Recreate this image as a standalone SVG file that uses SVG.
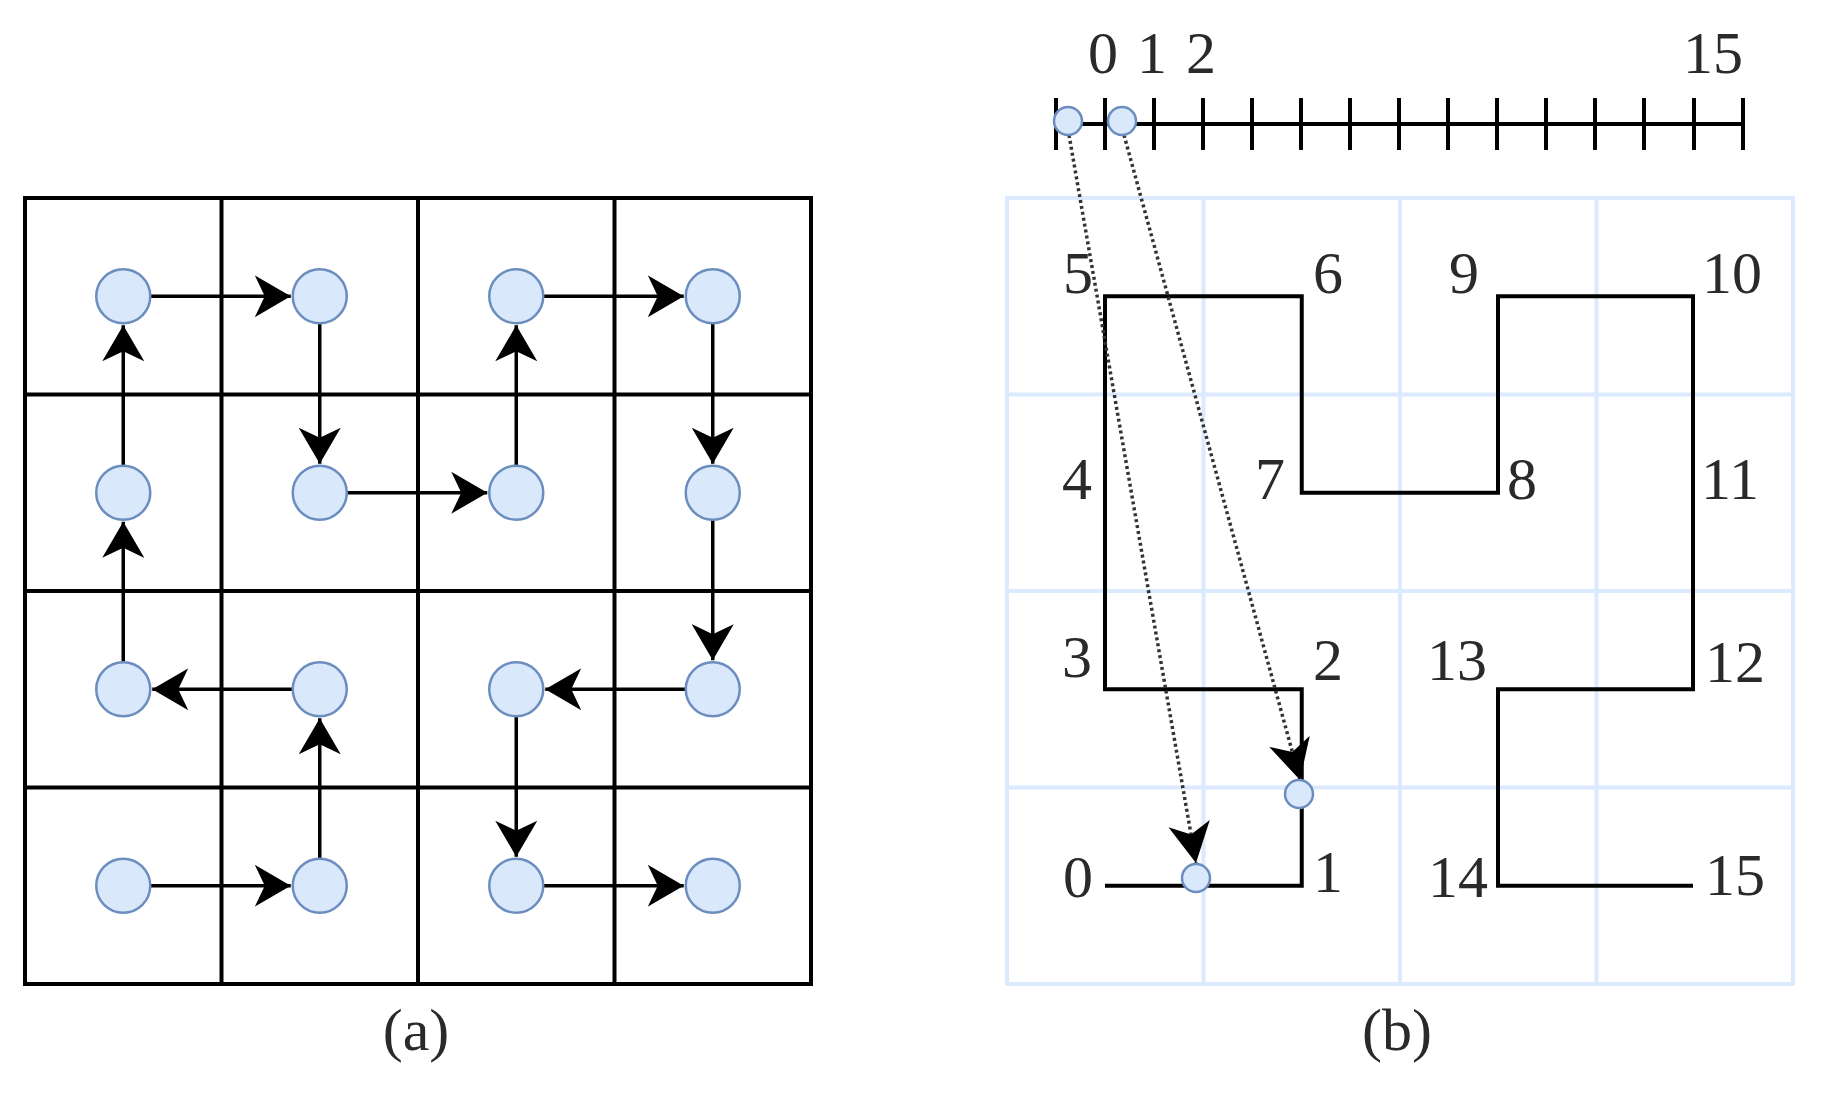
<svg xmlns="http://www.w3.org/2000/svg" width="1829" height="1093" viewBox="0 0 1829 1093">
<style>
.grid{fill:none;stroke:#000;stroke-width:4}
.lgrid{fill:none;stroke:#dbeafe;stroke-width:4}
.node{fill:#dae8fc;stroke:#6c8ebf;stroke-width:2.5}
.arr{stroke:#000;stroke-width:3.5;fill:none}
.dot{stroke:#333;stroke-width:3.5;stroke-dasharray:3 3;fill:none}
.curve{fill:none;stroke:#000;stroke-width:4;stroke-linejoin:miter}
.lbl{font-family:"Liberation Serif","Times New Roman",serif;font-size:60px;fill:#2a2a2a;text-anchor:middle}
</style>
<defs>
<marker id="ah" markerUnits="userSpaceOnUse" markerWidth="36" markerHeight="42" viewBox="0 0 36 42" refX="36" refY="21" orient="auto">
<path d="M0,0 L36,21 L0,42 L10,21 Z" fill="#000"/>
</marker>
<marker id="ah2" markerUnits="userSpaceOnUse" markerWidth="40" markerHeight="42" viewBox="0 0 40 42" refX="40" refY="21" orient="auto">
<path d="M0,0 L40,21 L0,42 L11,21 Z" fill="#000"/>
</marker>
</defs>
<rect width="1829" height="1093" fill="#fff"/>

<!-- (a) grid -->
<g id="gridA" class="grid">
<rect x="25" y="198" width="786" height="786"/>
<line x1="221.5" y1="198" x2="221.5" y2="984"/>
<line x1="418" y1="198" x2="418" y2="984"/>
<line x1="614.5" y1="198" x2="614.5" y2="984"/>
<line x1="25" y1="394.5" x2="811" y2="394.5"/>
<line x1="25" y1="591" x2="811" y2="591"/>
<line x1="25" y1="787.5" x2="811" y2="787.5"/>
</g>

<g id="connectorsA">
<line class="arr" x1="150.25" y1="885.75" x2="290.75" y2="885.75" marker-end="url(#ah)"/>
<line class="arr" x1="319.75" y1="858.75" x2="319.75" y2="718.25" marker-end="url(#ah)"/>
<line class="arr" x1="292.75" y1="689.25" x2="152.25" y2="689.25" marker-end="url(#ah)"/>
<line class="arr" x1="123.25" y1="662.25" x2="123.25" y2="521.75" marker-end="url(#ah)"/>
<line class="arr" x1="123.25" y1="465.75" x2="123.25" y2="325.25" marker-end="url(#ah)"/>
<line class="arr" x1="150.25" y1="296.25" x2="290.75" y2="296.25" marker-end="url(#ah)"/>
<line class="arr" x1="319.75" y1="323.25" x2="319.75" y2="463.75" marker-end="url(#ah)"/>
<line class="arr" x1="346.75" y1="492.75" x2="487.25" y2="492.75" marker-end="url(#ah)"/>
<line class="arr" x1="516.25" y1="465.75" x2="516.25" y2="325.25" marker-end="url(#ah)"/>
<line class="arr" x1="543.25" y1="296.25" x2="683.75" y2="296.25" marker-end="url(#ah)"/>
<line class="arr" x1="712.75" y1="323.25" x2="712.75" y2="463.75" marker-end="url(#ah)"/>
<line class="arr" x1="712.75" y1="519.75" x2="712.75" y2="660.25" marker-end="url(#ah)"/>
<line class="arr" x1="685.75" y1="689.25" x2="545.25" y2="689.25" marker-end="url(#ah)"/>
<line class="arr" x1="516.25" y1="716.25" x2="516.25" y2="856.75" marker-end="url(#ah)"/>
<line class="arr" x1="543.25" y1="885.75" x2="683.75" y2="885.75" marker-end="url(#ah)"/>
</g>

<g id="nodesA">
<g id="a00"><circle class="node" cx="123.25" cy="296.25" r="27"/></g>
<g id="a10"><circle class="node" cx="319.75" cy="296.25" r="27"/></g>
<g id="a20"><circle class="node" cx="516.25" cy="296.25" r="27"/></g>
<g id="a30"><circle class="node" cx="712.75" cy="296.25" r="27"/></g>
<g id="a01"><circle class="node" cx="123.25" cy="492.75" r="27"/></g>
<g id="a11"><circle class="node" cx="319.75" cy="492.75" r="27"/></g>
<g id="a21"><circle class="node" cx="516.25" cy="492.75" r="27"/></g>
<g id="a31"><circle class="node" cx="712.75" cy="492.75" r="27"/></g>
<g id="a02"><circle class="node" cx="123.25" cy="689.25" r="27"/></g>
<g id="a12"><circle class="node" cx="319.75" cy="689.25" r="27"/></g>
<g id="a22"><circle class="node" cx="516.25" cy="689.25" r="27"/></g>
<g id="a32"><circle class="node" cx="712.75" cy="689.25" r="27"/></g>
<g id="a03"><circle class="node" cx="123.25" cy="885.75" r="27"/></g>
<g id="a13"><circle class="node" cx="319.75" cy="885.75" r="27"/></g>
<g id="a23"><circle class="node" cx="516.25" cy="885.75" r="27"/></g>
<g id="a33"><circle class="node" cx="712.75" cy="885.75" r="27"/></g>
</g>
<text class="lbl" x="416" y="1050">(a)</text>

<!-- (b) -->
<g id="gridB" class="lgrid">
<rect x="1007" y="198" width="786" height="786"/>
<line x1="1203.5" y1="198" x2="1203.5" y2="984"/>
<line x1="1400" y1="198" x2="1400" y2="984"/>
<line x1="1596.5" y1="198" x2="1596.5" y2="984"/>
<line x1="1007" y1="394.5" x2="1793" y2="394.5"/>
<line x1="1007" y1="591" x2="1793" y2="591"/>
<line x1="1007" y1="787.5" x2="1793" y2="787.5"/>
</g>

<g id="timeline" stroke="#000" stroke-width="4">
<line x1="1056" y1="124" x2="1743" y2="124"/>
<path d="M1056,98V150M1105,98V150M1154,98V150M1203,98V150M1252,98V150M1301,98V150M1350,98V150M1399,98V150M1448,98V150M1497,98V150M1546,98V150M1595,98V150M1644,98V150M1694,98V150M1743,98V150"/>
</g>
<g id="timelineLabels">
<text class="lbl" x="1103" y="73">0</text>
<text class="lbl" x="1152" y="73">1</text>
<text class="lbl" x="1201" y="73">2</text>
<text class="lbl" x="1713" y="73">15</text>
</g>

<g id="hilbert">
<polyline class="curve" points="1105,885.75 1301.75,885.75 1301.75,689.25 1105,689.25 1105,492.75 1105,296.25 1301.75,296.25 1301.75,492.75 1498,492.75 1498,296.25 1693,296.25 1693,492.75 1693,689.25 1498,689.25 1498,885.75 1693,885.75"/>
</g>
<g id="curveLabels">
<text class="lbl" x="1078" y="897">0</text>
<text class="lbl" x="1328" y="892">1</text>
<text class="lbl" x="1328" y="680">2</text>
<text class="lbl" x="1077" y="677">3</text>
<text class="lbl" x="1077" y="499">4</text>
<text class="lbl" x="1078" y="293">5</text>
<text class="lbl" x="1328" y="293">6</text>
<text class="lbl" x="1270" y="499">7</text>
<text class="lbl" x="1522" y="499">8</text>
<text class="lbl" x="1464" y="293">9</text>
<text class="lbl" x="1732" y="293">10</text>
<text class="lbl" x="1730" y="499">11</text>
<text class="lbl" x="1735" y="682">12</text>
<text class="lbl" x="1457" y="680">13</text>
<text class="lbl" x="1458" y="897">14</text>
<text class="lbl" x="1735" y="895">15</text>
</g>

<g id="connectorsB">
<line class="dot" x1="1069" y1="135" x2="1196" y2="863" marker-end="url(#ah2)"/>
<line class="dot" x1="1124" y1="135" x2="1300" y2="780" marker-end="url(#ah2)"/>
</g>

<g id="nodesB">
<g id="t0"><circle class="node" cx="1068" cy="121" r="14"/></g>
<g id="t1"><circle class="node" cx="1122" cy="121" r="14"/></g>
<g id="p0"><circle class="node" cx="1196" cy="878" r="14"/></g>
<g id="p1"><circle class="node" cx="1299" cy="794" r="14"/></g>
</g>
<text class="lbl" x="1397" y="1050">(b)</text>
</svg>
